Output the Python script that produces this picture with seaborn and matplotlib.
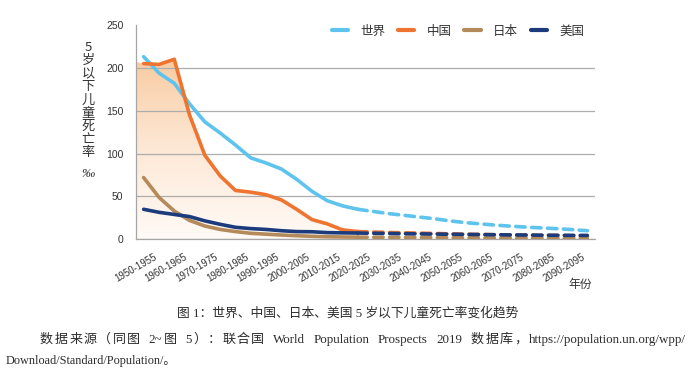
import re
import numpy as np
import pandas as pd
import matplotlib
matplotlib.use('Agg')
import matplotlib.pyplot as plt
import seaborn as sns
from matplotlib.colors import LinearSegmentedColormap

# 5-year periods, 1950-1955 ... 2095-2100
periods = [f"{y}-{y + 5}" for y in range(1950, 2100, 5)]

# estimates (1950-1955 .. 2020-2025), per mille
world_hist = [213, 194, 182, 158, 137, 124, 110, 95, 89, 82, 70, 56, 45, 39, 35]
china_hist = [205, 204, 210, 145, 98, 74, 57, 55, 52, 46, 35, 23, 18, 11, 9]
japan_hist = [72, 49, 33, 22, 15.5, 11.5, 9, 7, 6, 5, 4.2, 3.5, 3, 2.7, 2.5]
usa_hist = [35, 31.5, 29, 26.5, 21.5, 17.5, 14, 12.5, 11.5, 10, 9, 8.8, 7.8, 7.5, 7.3]

# projections (2020-2025 .. 2095-2100)
world_proj = [35, 32.5, 30, 28, 26, 24, 21.5, 19.5, 18, 16.5, 15.3, 14.2, 13.3, 12.4, 11.3, 10]
china_proj = [9, 8.5, 8, 7.6, 7.2, 6.8, 6.4, 6.0, 5.7, 5.4, 5.1, 4.8, 4.6, 4.4, 4.2, 4.0]
japan_proj = [2.5, 2.4, 2.3, 2.2, 2.1, 2.0, 1.9, 1.8, 1.7, 1.6, 1.6, 1.5, 1.4, 1.4, 1.3, 1.3]
usa_proj = [7.3, 7.0, 6.8, 6.5, 6.3, 6.1, 5.9, 5.7, 5.5, 5.3, 5.1, 5.0, 4.8, 4.7, 4.6, 4.5]

countries = ['世界', '中国', '日本', '美国']
colors = {'世界': '#5EC4EE', '中国': '#EE7430', '日本': '#B48A5A', '美国': '#1C3B7C'}

caption = '图 1：世界、中国、日本、美国 5 岁以下儿童死亡率变化趋势'
source_1 = '数据来源（同图 2~图 5）：联合国 World Population Prospects 2019 数据库，https://population.un.org/wpp/'
source_2 = 'Download/Standard/Population/。'

hist = {'世界': world_hist, '中国': china_hist, '日本': japan_hist, '美国': usa_hist}
proj = {'世界': world_proj, '中国': china_proj, '日本': japan_proj, '美国': usa_proj}

n_hist = len(world_hist)
frames = []
for c in countries:
    frames.append(pd.DataFrame({'idx': np.arange(n_hist), 'value': hist[c], 'country': c, 'part': 'est'}))
    frames.append(pd.DataFrame({'idx': np.arange(n_hist - 1, len(periods)), 'value': proj[c],
                                'country': c, 'part': 'proj'}))
df = pd.concat(frames, ignore_index=True)

sns.set_style('white')
plt.rcParams['font.family'] = ['Noto Sans CJK SC', 'DejaVu Sans']

W, H = 691, 377
fig = plt.figure(figsize=(W / 100, H / 100), dpi=100)
ax = fig.add_axes([136 / W, 1 - 239.3 / H, (595 - 136) / W, (239.3 - 25) / H])

# gradient area under the China line
xs = np.concatenate([[-0.5], np.arange(n_hist)])
ys = np.concatenate([[china_hist[0] + 2], china_hist])
poly = ax.fill_between(xs, 0, ys, color='none', lw=0)
cmap = LinearSegmentedColormap.from_list('peach', ['#FFFAF6', '#FDE8D6', '#F9CBA0'])
grad = np.linspace(1, 0, 256).reshape(-1, 1)
img = ax.imshow(grad, extent=[-0.5, n_hist - 1, 0, 212], aspect='auto', cmap=cmap,
                origin='upper', zorder=0.5)
img.set_clip_path(poly.get_paths()[0], transform=ax.transData)

for c in countries:
    for part, grp in df[df['country'] == c].groupby('part'):
        if part == 'est':
            sns.lineplot(data=grp, x='idx', y='value', ax=ax, color=colors[c], lw=2.6,
                         legend=False, solid_capstyle='round', zorder=3)
        else:
            sns.lineplot(data=grp, x='idx', y='value', ax=ax, color=colors[c], lw=2.6,
                         legend=False, linestyle=(0, (2.6, 1.8)), dash_capstyle='round', zorder=3)

ax.set_xlim(-0.5, len(periods) - 0.5)
ax.set_ylim(0, 250)
ax.set_yticks(range(0, 251, 50))
# labels sit a little right of the category centre, like the original
ax.set_xticks(np.arange(0, len(periods), 2) + 0.65)
ax.set_xticks(np.arange(-0.5, len(periods), 1), minor=True)
ax.set_xticklabels(periods[::2], rotation=30, ha='right', rotation_mode='anchor',
                   family=['Liberation Sans', 'DejaVu Sans'], fontsize=7, color='#333333')
ax.tick_params(axis='x', which='major', length=0, pad=9)
ax.tick_params(axis='x', which='minor', length=5, color='#A6A6A6', width=0.8, direction='out')
ax.tick_params(axis='y', length=4, color='#A6A6A6', width=0.8, direction='out', pad=5,
               labelsize=7.5, labelcolor='#333333')
for lab in ax.get_yticklabels():
    lab.set_family(['Liberation Sans', 'DejaVu Sans'])

ax.grid(axis='y', color='#ADADAD', lw=0.9)
ax.get_ygridlines()[-1].set_visible(False)
ax.set_axisbelow(True)
for s in ['top', 'right']:
    ax.spines[s].set_visible(False)
for s in ['left', 'bottom']:
    ax.spines[s].set_color('#A6A6A6')
    ax.spines[s].set_linewidth(0.9)
ax.set_xlabel('')
ax.set_ylabel('')

# legend
handles = [plt.Line2D([], [], color=colors[c], lw=3) for c in countries]
fig.legend(handles, countries, loc='center', bbox_to_anchor=(458 / W, 1 - 31 / H), ncol=4,
           frameon=False, fontsize=9, handlelength=1.3, handletextpad=1.0, columnspacing=1.0,
           labelcolor='#333333')

# vertical y label
fig.text(88 / W, 1 - 100 / H, '5\n岁\n以\n下\n儿\n童\n死\n亡\n率', ha='center', va='center',
         fontsize=9.5, linespacing=1.02, color='#333333')
fig.text(88 / W, 1 - 174 / H, '‰', ha='center', va='center', fontsize=9.5,
         family=['Liberation Serif', 'DejaVu Serif'], style='italic', color='#333333')
fig.text(580 / W, 1 - 284 / H, '年份', ha='center', va='center', fontsize=8.5, color='#333333')

# captions
cap_font = ['Liberation Serif', 'Noto Sans CJK SC']
cap_kw = dict(va='center', family=cap_font, color='#2b2b2b')
fig.text(348 / W, 1 - 313 / H, caption, ha='center', fontsize=9.2, **cap_kw)
fig.text(6 / W, 1 - 361 / H, source_2, ha='left', fontsize=8.8, **cap_kw)

# justified source line: extra width spread over characters, a bit more on word spaces
renderer = fig.canvas.get_renderer()


def advance(s, size):
    # width of s as it advances in a line (ink of a trailing 'l' cancels out)
    a = fig.text(0, 0, s + 'l', fontsize=size, family=cap_font)
    b = fig.text(0, 0, 'l', fontsize=size, family=cap_font)
    w = a.get_window_extent(renderer).width - b.get_window_extent(renderer).width
    a.remove()
    b.remove()
    return w


size = 9.4
tokens = re.findall(r'[\x21-\x7e]+| |[^\x00-\x7f]', source_1)
pieces = [(tok, advance(tok, size)) for tok in tokens]
weights = [2.5 if tok == ' ' else 1 for tok in tokens[:-1]]
x0, x1 = 40, 686
unit = (x1 - x0 - sum(w for _, w in pieces)) / sum(weights)
x = x0
for i, (tok, w) in enumerate(pieces):
    if tok != ' ':
        fig.text(x / W, 1 - 340 / H, tok, ha='left', fontsize=size, **cap_kw)
    x += w + (unit * weights[i] if i < len(weights) else 0)

fig.savefig('out.png', dpi=100)
